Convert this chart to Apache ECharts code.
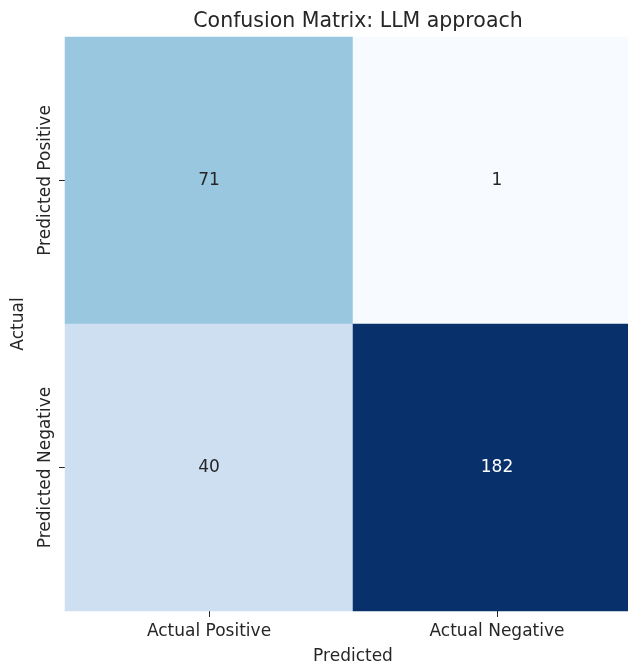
<!DOCTYPE html>
<html>
<head>
<meta charset="utf-8">
<script src="https://cdn.jsdelivr.net/npm/echarts@6/dist/echarts.min.js"></script>
<style>
    html, body { margin: 0; padding: 0; background: #fff; overflow: hidden; }
    #chart { width: 628px; height: 666px; }
</style>
</head>
<body>
<div id="chart"></div>
<script>
    var xLabels = ['Actual Positive', 'Actual Negative'];   // Predicted (x)
    var yLabels = ['Predicted Positive', 'Predicted Negative']; // Actual (y)
    var counts = [
        [71, 1],   // row: Predicted Positive
        [40, 182]  // row: Predicted Negative
    ];

    // matplotlib "Blues"
    var blues = ['#f7fbff', '#deebf7', '#c6dbef', '#9ecae1', '#6baed6', '#4292c6', '#2171b5', '#08519c', '#08306b'];

    var flat = [];
    counts.forEach(function (row) { row.forEach(function (v) { flat.push(v); }); });
    var vmin = Math.min.apply(null, flat);
    var vmax = Math.max.apply(null, flat);

    var cells = [];
    counts.forEach(function (row, yi) {
        row.forEach(function (v, xi) {
            var t = (v - vmin) / (vmax - vmin);
            cells.push({
                value: [xi, yi, v],
                label: { color: t > 0.5 ? '#ffffff' : '#262626' }
            });
        });
    });

    var font = 'DejaVu Sans';
    var chart = echarts.init(document.getElementById('chart'));
    chart.setOption({
        animation: false,
        textStyle: { fontFamily: font },
        title: {
            text: 'Confusion Matrix: LLM approach',
            left: 353,
            textAlign: 'center',
            top: 6,
            textStyle: { fontFamily: font, fontSize: 20.5, fontWeight: 'normal', color: '#262626' }
        },
        // the picture is cut on the right: the plot runs past the edge
        grid: { left: 65, right: -13, top: 37, bottom: 55, outerBoundsMode: 'none', containLabel: false },
        xAxis: {
            type: 'category',
            data: xLabels,
            name: 'Predicted',
            nameLocation: 'middle',
            nameGap: 37,
            nameTextStyle: { fontFamily: font, fontSize: 17, color: '#262626' },
            axisLine: { show: false },
            axisTick: { show: true, alignWithLabel: true, length: 6, lineStyle: { color: '#262626' } },
            axisLabel: { fontFamily: font, fontSize: 17, color: '#262626', margin: 12 },
            splitLine: { show: false }
        },
        yAxis: {
            type: 'category',
            data: yLabels,
            inverse: true,
            name: 'Actual',
            nameLocation: 'middle',
            nameGap: 38,
            nameRotate: 90,
            nameTextStyle: { fontFamily: font, fontSize: 17, color: '#262626' },
            axisLine: { show: false },
            axisTick: { show: true, alignWithLabel: true, length: 6, lineStyle: { color: '#262626' } },
            axisLabel: { fontFamily: font, fontSize: 17, color: '#262626', rotate: 90, margin: 11, align: 'center', verticalAlign: 'bottom' },
            splitLine: { show: false }
        },
        visualMap: {
            show: false,
            min: vmin,
            max: vmax,
            dimension: 2,
            inRange: { color: blues }
        },
        series: [{
            type: 'heatmap',
            data: cells,
            label: { show: true, fontFamily: font, fontSize: 17 },
            itemStyle: { borderWidth: 0 },
            emphasis: { disabled: true }
        }]
    });
</script>
</body>
</html>
